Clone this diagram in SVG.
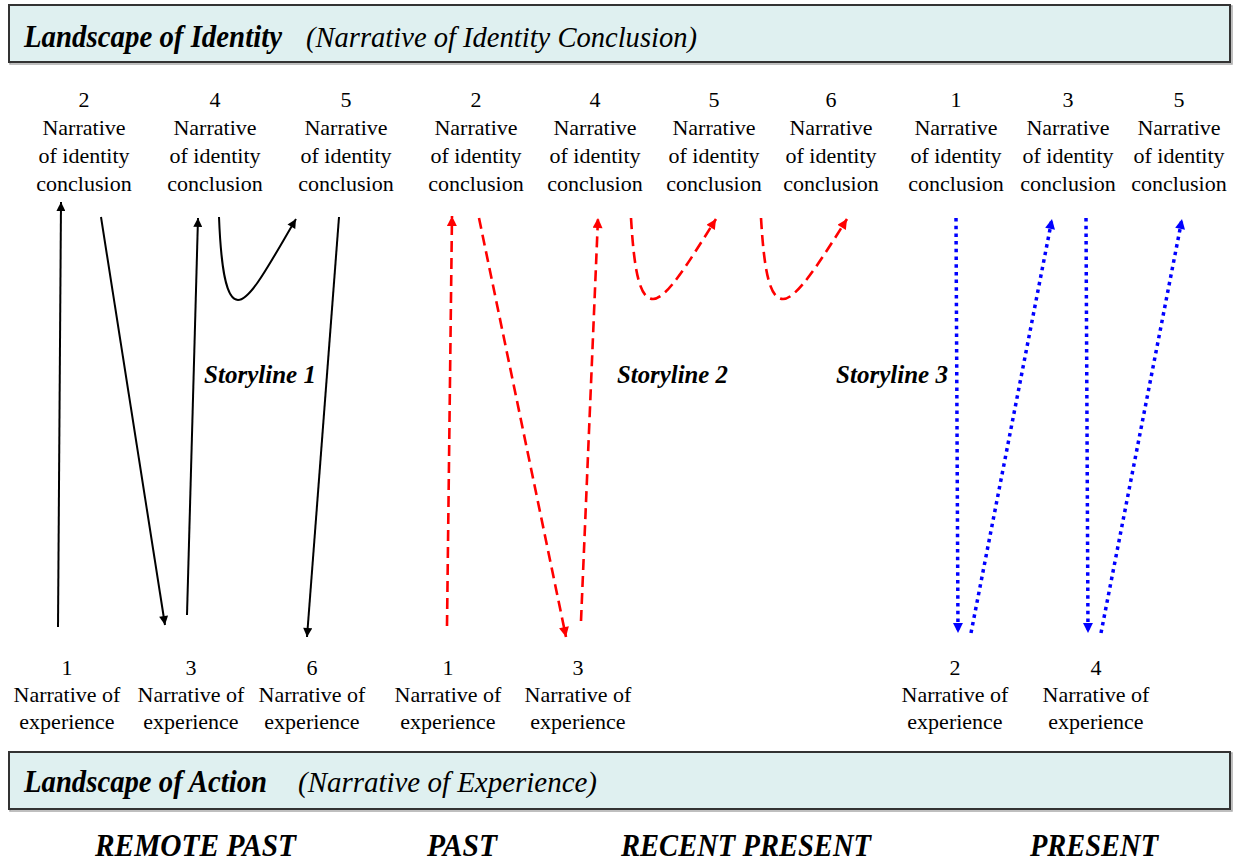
<svg xmlns="http://www.w3.org/2000/svg" width="1233" height="861" viewBox="0 0 1233 861">
<style>
  .band { fill: #dff0f0; stroke: #333; stroke-width: 2; }
  .bandShadow { fill: none; stroke: #aaa; stroke-width: 1.5; }
  .title { font-family: "Liberation Serif", "Times New Roman", serif; font-weight: bold; font-style: italic; font-size: 31px; fill: #000; }
  .sub { font-family: "Liberation Serif", "Times New Roman", serif; font-style: italic; font-size: 30px; fill: #000; }
  .lbl { font-family: "Liberation Serif", "Times New Roman", serif; font-size: 22px; fill: #000; text-anchor: middle; }
  .story { font-family: "Liberation Serif", "Times New Roman", serif; font-weight: bold; font-style: italic; font-size: 25px; fill: #000; }
  .time { font-family: "Liberation Serif", "Times New Roman", serif; font-weight: bold; font-style: italic; font-size: 32px; fill: #000; }
  .blk { fill: none; stroke: #000; stroke-width: 2; }
  .red { fill: none; stroke: #ff0000; stroke-width: 2.6; stroke-dasharray: 11 6; }
  .blu { fill: none; stroke: #0000ff; stroke-width: 3.5; stroke-dasharray: 3.5 4.2; }
</style>
<defs>
  <marker id="ahBlack" viewBox="0 0 10 10" refX="10" refY="5" markerWidth="12" markerHeight="9" markerUnits="userSpaceOnUse" orient="auto">
    <path d="M0,0 L10,5 L0,10 z" fill="#000"/>
  </marker>
  <marker id="ahRed" viewBox="0 0 10 10" refX="10" refY="5" markerWidth="13" markerHeight="10" markerUnits="userSpaceOnUse" orient="auto">
    <path d="M0,0 L10,5 L0,10 z" fill="#ff0000"/>
  </marker>
  <marker id="ahBlue" viewBox="0 0 10 10" refX="10" refY="5" markerWidth="11" markerHeight="10" markerUnits="userSpaceOnUse" orient="auto">
    <path d="M0,0 L10,5 L0,10 z" fill="#0000ff"/>
  </marker>
</defs>

<g id="band-identity">
  <rect class="bandShadow" x="10" y="6" width="1222" height="58"/>
  <rect class="band" x="9" y="5" width="1221" height="57"/>
  <text class="title" x="24" y="47" textLength="258" lengthAdjust="spacingAndGlyphs">Landscape of Identity</text>
  <text class="sub" x="306" y="47" textLength="391" lengthAdjust="spacingAndGlyphs">(Narrative of Identity Conclusion)</text>
</g>

<g id="band-action">
  <rect class="bandShadow" x="10" y="753" width="1222" height="58"/>
  <rect class="band" x="9" y="752" width="1221" height="57"/>
  <text class="title" x="24" y="792" textLength="243" lengthAdjust="spacingAndGlyphs">Landscape of Action</text>
  <text class="sub" x="298" y="792" textLength="299" lengthAdjust="spacingAndGlyphs">(Narrative of Experience)</text>
</g>

<g id="top-s1-2" class="lbl"><text x="84" y="107">2</text><text x="84" y="135">Narrative</text><text x="84" y="163">of identity</text><text x="84" y="191">conclusion</text></g>
<g id="top-s1-4" class="lbl"><text x="215" y="107">4</text><text x="215" y="135">Narrative</text><text x="215" y="163">of identity</text><text x="215" y="191">conclusion</text></g>
<g id="top-s1-5" class="lbl"><text x="346" y="107">5</text><text x="346" y="135">Narrative</text><text x="346" y="163">of identity</text><text x="346" y="191">conclusion</text></g>
<g id="top-s2-2" class="lbl"><text x="476" y="107">2</text><text x="476" y="135">Narrative</text><text x="476" y="163">of identity</text><text x="476" y="191">conclusion</text></g>
<g id="top-s2-4" class="lbl"><text x="595" y="107">4</text><text x="595" y="135">Narrative</text><text x="595" y="163">of identity</text><text x="595" y="191">conclusion</text></g>
<g id="top-s2-5" class="lbl"><text x="714" y="107">5</text><text x="714" y="135">Narrative</text><text x="714" y="163">of identity</text><text x="714" y="191">conclusion</text></g>
<g id="top-s2-6" class="lbl"><text x="831" y="107">6</text><text x="831" y="135">Narrative</text><text x="831" y="163">of identity</text><text x="831" y="191">conclusion</text></g>
<g id="top-s3-1" class="lbl"><text x="956" y="107">1</text><text x="956" y="135">Narrative</text><text x="956" y="163">of identity</text><text x="956" y="191">conclusion</text></g>
<g id="top-s3-3" class="lbl"><text x="1068" y="107">3</text><text x="1068" y="135">Narrative</text><text x="1068" y="163">of identity</text><text x="1068" y="191">conclusion</text></g>
<g id="top-s3-5" class="lbl"><text x="1179" y="107">5</text><text x="1179" y="135">Narrative</text><text x="1179" y="163">of identity</text><text x="1179" y="191">conclusion</text></g>

<g id="bot-s1-1" class="lbl"><text x="67" y="675">1</text><text x="67" y="702">Narrative of</text><text x="67" y="729">experience</text></g>
<g id="bot-s1-3" class="lbl"><text x="191" y="675">3</text><text x="191" y="702">Narrative of</text><text x="191" y="729">experience</text></g>
<g id="bot-s1-6" class="lbl"><text x="312" y="675">6</text><text x="312" y="702">Narrative of</text><text x="312" y="729">experience</text></g>
<g id="bot-s2-1" class="lbl"><text x="448" y="675">1</text><text x="448" y="702">Narrative of</text><text x="448" y="729">experience</text></g>
<g id="bot-s2-3" class="lbl"><text x="578" y="675">3</text><text x="578" y="702">Narrative of</text><text x="578" y="729">experience</text></g>
<g id="bot-s3-2" class="lbl"><text x="955" y="675">2</text><text x="955" y="702">Narrative of</text><text x="955" y="729">experience</text></g>
<g id="bot-s3-4" class="lbl"><text x="1096" y="675">4</text><text x="1096" y="702">Narrative of</text><text x="1096" y="729">experience</text></g>

<g id="storyline-labels">
  <text class="story" x="204" y="383" textLength="112" lengthAdjust="spacingAndGlyphs">Storyline 1</text>
  <text class="story" x="617" y="383" textLength="111" lengthAdjust="spacingAndGlyphs">Storyline 2</text>
  <text class="story" x="836" y="383" textLength="112" lengthAdjust="spacingAndGlyphs">Storyline 3</text>
</g>

<g id="time-labels">
  <text class="time" x="95" y="856" textLength="201" lengthAdjust="spacingAndGlyphs">REMOTE PAST</text>
  <text class="time" x="427" y="856" textLength="70" lengthAdjust="spacingAndGlyphs">PAST</text>
  <text class="time" x="621" y="856" textLength="250" lengthAdjust="spacingAndGlyphs">RECENT PRESENT</text>
  <text class="time" x="1030" y="856" textLength="128" lengthAdjust="spacingAndGlyphs">PRESENT</text>
</g>

<g id="connectors">
  <!-- Storyline 1 (black solid) -->
  <path class="blk" d="M58,627 L61,202" marker-end="url(#ahBlack)"/>
  <path class="blk" d="M101,217 L165,625" marker-end="url(#ahBlack)"/>
  <path class="blk" d="M187,615 L198,218" marker-end="url(#ahBlack)"/>
  <path class="blk" d="M219,217 C221,268 226,300 238,300 C251,300 271,261 296,219" marker-end="url(#ahBlack)"/>
  <path class="blk" d="M339,217 L307,637" marker-end="url(#ahBlack)"/>
  <!-- Storyline 2 (red dashed) -->
  <path class="red" d="M447,626 L452,216" marker-end="url(#ahRed)"/>
  <path class="red" d="M479,218 L566,637" marker-end="url(#ahRed)"/>
  <path class="red" d="M581,621 L598,218" marker-end="url(#ahRed)"/>
  <path class="red" d="M631,218 C634,268 639,299 653,299 C667,299 690,260 716,219" marker-end="url(#ahRed)"/>
  <path class="red" d="M761,218 C764,268 769,299 783,299 C797,299 821,260 847,219" marker-end="url(#ahRed)"/>
  <!-- Storyline 3 (blue dotted) -->
  <path class="blu" d="M956,218 L958,633" marker-end="url(#ahBlue)"/>
  <path class="blu" d="M971,633 L1052,219" marker-end="url(#ahBlue)"/>
  <path class="blu" d="M1086,218 L1088,633" marker-end="url(#ahBlue)"/>
  <path class="blu" d="M1101,633 L1182,219" marker-end="url(#ahBlue)"/>
</g>
</svg>
